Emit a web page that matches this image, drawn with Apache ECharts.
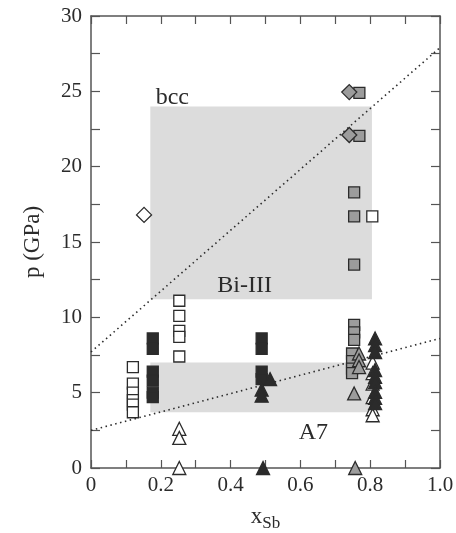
<!DOCTYPE html>
<html>
<head>
<meta charset="utf-8">
<script src="https://cdn.jsdelivr.net/npm/echarts@6/dist/echarts.min.js"></script>
<style>
html,body{margin:0;padding:0;background:#fff;}
#chart{width:456px;height:533px;}
</style>
</head>
<body>
<div id="chart"></div>
<script>
// 相区（灰色矩形）
var bccRect = [[0.17, 11.2], [0.805, 24]];
var a7Rect = [[0.17, 3.7], [0.80, 7.0]];
// 虚线边界
var upperLine = [[0, 7.7], [1.0, 27.9]];
var lowerLine = [[0, 2.5], [1.0, 8.6]];

// 空心方块
var openSquares = [
  [0.12, 6.7], [0.12, 5.6], [0.12, 5.0], [0.12, 4.5], [0.12, 4.2], [0.12, 3.7],
  [0.253, 11.1], [0.253, 10.1], [0.253, 9.1], [0.253, 8.7], [0.253, 7.4],
  [0.806, 16.7]
];
// 黑色方块
var blackSquares = [
  [0.177, 8.6], [0.177, 7.9], [0.177, 6.4], [0.177, 5.8], [0.177, 5.0], [0.177, 4.7],
  [0.489, 8.6], [0.489, 7.9], [0.489, 6.4], [0.489, 5.9]
];
// 灰色方块
var graySquares = [
  [0.769, 24.9], [0.769, 22.05],
  [0.754, 18.3], [0.754, 16.7], [0.754, 13.5],
  [0.754, 9.5], [0.754, 9.0], [0.754, 8.5],
  [0.748, 7.6], [0.748, 7.1], [0.748, 6.6], [0.748, 6.3]
];
// 空心三角
var openTriangles = [
  [0.253, 2.6], [0.253, 2.0], [0.253, 0],
  [0.807, 7.0], [0.807, 6.3], [0.807, 5.6], [0.807, 4.7], [0.807, 3.9], [0.807, 3.5]
];
// 黑色三角
var blackTriangles = [
  [0.513, 5.9], [0.489, 5.2], [0.489, 4.8], [0.493, 0],
  [0.814, 8.6], [0.814, 8.15], [0.814, 7.7], [0.814, 6.5], [0.814, 6.05], [0.814, 5.7],
  [0.814, 5.05], [0.814, 4.65], [0.814, 4.3]
];
// 灰色三角
var grayTriangles = [
  [0.768, 7.6], [0.768, 7.15], [0.768, 6.7], [0.754, 4.95], [0.757, 0]
];
// 菱形
var openDiamonds = [[0.152, 16.8]];
var grayDiamonds = [[0.74, 24.95], [0.74, 22.1]];
// 相区标注
var phaseLabels = [
  ['bcc', 0.233, 24.6],
  ['Bi-III', 0.44, 12.1],
  ['A7', 0.637, 2.35]
];

var serif = 'Times New Roman';
var ink = '#2b2b2b';

var myChart = echarts.init(document.getElementById('chart'));

function axisX(pos, showLabel) {
  return {
    type: 'value', position: pos, min: 0, max: 1.0, interval: 0.2,
    axisLine: {onZero: false, lineStyle: {color: '#555', width: 1.5}},
    axisTick: {inside: true, length: 8, lineStyle: {color: '#555', width: 1.2}},
    minorTick: {show: true, splitNumber: 2, length: 8, lineStyle: {color: '#555', width: 1.2}},
    splitLine: {show: false},
    axisLabel: {
      show: showLabel, fontFamily: serif, fontSize: 21, color: ink, margin: 7,
      formatter: function (v) { return v === 0 ? '0' : (v === 1 ? '1.0' : v.toFixed(1)); }
    }
  };
}
function axisY(pos, showLabel) {
  return {
    type: 'value', position: pos, min: 0, max: 30, interval: 5,
    axisLine: {onZero: false, lineStyle: {color: '#555', width: 1.5}},
    axisTick: {inside: true, length: 9, lineStyle: {color: '#555', width: 1.2}},
    minorTick: {show: true, splitNumber: 2, length: 9, lineStyle: {color: '#555', width: 1.2}},
    splitLine: {show: false},
    axisLabel: {show: showLabel, fontFamily: serif, fontSize: 21, color: ink, margin: 9}
  };
}

function pts(name, data, symbol, size, fill, z) {
  return {
    name: name, type: 'scatter', data: data, symbol: symbol, symbolSize: size,
    itemStyle: {color: fill, borderColor: ink, borderWidth: 1.3, opacity: 1},
    z: z || 5, silent: true
  };
}

var xa = axisX('bottom', true);
xa.name = 'x{s|Sb}';
xa.nameLocation = 'middle';
xa.nameGap = 33;
xa.nameTextStyle = {fontFamily: serif, fontSize: 23, color: ink, rich: {s: {fontFamily: serif, fontSize: 17, color: ink, verticalAlign: 'bottom', padding: [14, 0, 0, 0]}}};

var ya = axisY('left', true);
ya.name = 'p (GPa)';
ya.nameLocation = 'middle';
ya.nameGap = 47;
ya.nameTextStyle = {fontFamily: serif, fontSize: 23, color: ink};

var option = {
  animation: false,
  backgroundColor: '#fff',
  grid: {left: 91, right: 16, top: 16, bottom: 65, outerBoundsMode: 'none'},
  xAxis: [xa, axisX('top', false)],
  yAxis: [ya, axisY('right', false)],
  series: [
    {
      type: 'line', data: [], silent: true,
      markArea: {
        silent: true,
        itemStyle: {color: '#dcdcdc'},
        data: [
          [{coord: bccRect[0]}, {coord: bccRect[1]}],
          [{coord: a7Rect[0]}, {coord: a7Rect[1]}]
        ]
      },
      z: 1
    },
    {type: 'line', data: upperLine, showSymbol: false, symbol: 'none', lineStyle: {color: ink, width: 1.6, type: [1.5, 3.5]}, z: 2, silent: true},
    {type: 'line', data: lowerLine, showSymbol: false, symbol: 'none', lineStyle: {color: ink, width: 1.6, type: [1.5, 3.5]}, z: 2, silent: true},
    pts('openSq', openSquares, 'rect', 11, '#fff'),
    pts('blackSq', blackSquares, 'rect', 11, ink),
    pts('graySq', graySquares, 'rect', 11, '#9c9c9c'),
    pts('openTri', openTriangles, 'triangle', 13, '#fff'),
    pts('grayTri', grayTriangles, 'triangle', 13, '#9c9c9c'),
    pts('blackTri', blackTriangles, 'triangle', 13, ink, 6),
    pts('openDia', openDiamonds, 'diamond', 15, '#fff'),
    pts('grayDia', grayDiamonds, 'diamond', 15, '#9c9c9c'),
    {
      type: 'scatter', symbolSize: 0, silent: true, z: 7,
      itemStyle: {opacity: 1},
      data: phaseLabels.map(function (d) { return {value: [d[1], d[2]], name: d[0]}; }),
      label: {show: true, position: 'inside', formatter: '{b}', fontFamily: serif, fontSize: 24, color: ink, opacity: 1}
    }
  ]
};

myChart.setOption(option);
</script>
</body>
</html>
